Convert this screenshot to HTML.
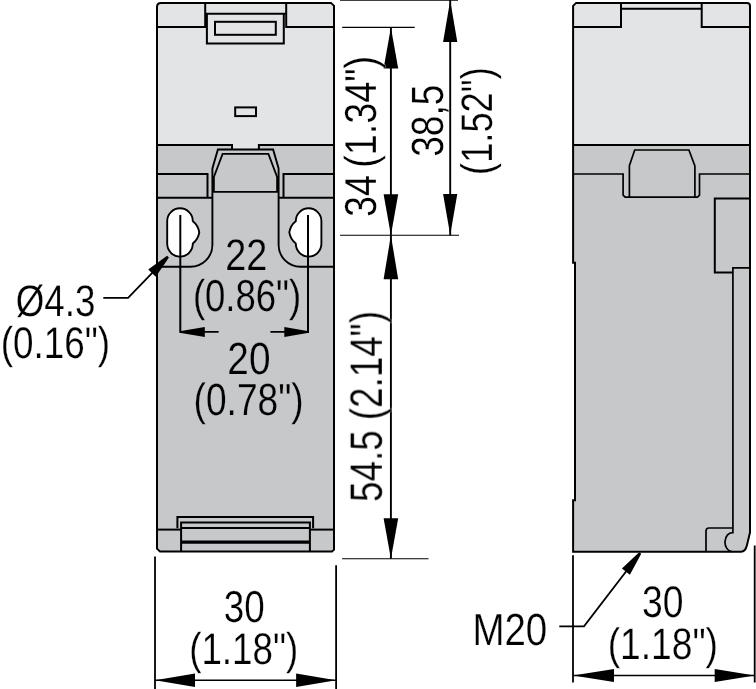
<!DOCTYPE html>
<html><head><meta charset="utf-8"><title>Dimensions</title>
<style>
html,body{margin:0;padding:0;background:#fff;}
svg{display:block;}
text{font-family:"Liberation Sans",sans-serif;fill:#000;text-rendering:geometricPrecision;}
</style></head><body>
<svg width="756" height="689" viewBox="0 0 756 689">
<rect width="756" height="689" fill="#fff"/>
<path d="M157.0,6.9 Q157.0,2.9 161.0,2.9 L331.0,2.9 L334.0,5.9 L334.0,549.6 L332.0,551.6 L160.0,551.6 L157.0,548.6 Z" fill="#c7c8ca"/>
<path d="M157.0,6.9 Q157.0,2.9 161.0,2.9 L331.0,2.9 L334.0,5.9 L334.0,144.9 L258.9,144.9 L258.9,149.5 L232,149.5 L232,144.9 L157.0,144.9 Z" fill="#e3e4e5"/>
<path d="M157.0,6.9 Q157.0,2.9 161.0,2.9 L331.0,2.9 L334.0,5.9 L334.0,549.6 L332.0,551.6 L160.0,551.6 L157.0,548.6 Z" stroke="#000" stroke-width="2.0" fill="none" stroke-linejoin="miter" />
<path d="M157.0,26.9 H205.2 V2.9" stroke="#000" stroke-width="2.0" fill="none" stroke-linejoin="miter" />
<path d="M334.0,26.9 H286.2 V2.9" stroke="#000" stroke-width="2.0" fill="none" stroke-linejoin="miter" />
<path d="M205.2,13.8 H286.2" stroke="#000" stroke-width="2.0" fill="none" stroke-linejoin="miter" />
<path d="M206.9,13.8 V43.5 H283.8 V13.8" stroke="#000" stroke-width="2.0" fill="none" stroke-linejoin="miter" />
<rect x="215" y="21.8" width="60.8" height="13" fill="none" stroke="#000" stroke-width="2.0"/>
<rect x="235.2" y="107.4" width="20.8" height="8.7" fill="none" stroke="#000" stroke-width="2.0"/>
<path d="M157.0,144.9 H232 V149.5" stroke="#000" stroke-width="2.0" fill="none" stroke-linejoin="miter" />
<path d="M334.0,144.9 H258.9 V149.5" stroke="#000" stroke-width="2.0" fill="none" stroke-linejoin="miter" />
<path d="M157.0,266.8 H190.4 A22,22 0 0 0 212.4,244.8 V168.4 L217.9,149.5 H273.1 L278.6,168.4 V244.8 A22,22 0 0 0 300.6,266.8 H334.0" stroke="#000" stroke-width="1.9" fill="none" stroke-linejoin="miter" />
<path d="M213.9,191.9 V177 L222.6,153.9 H268.4 L277.1,177 V191.9 Z" stroke="#000" stroke-width="1.8" fill="none" stroke-linejoin="miter" />
<path d="M157.0,173.9 H207.5 V197.7" stroke="#000" stroke-width="2.0" fill="none" stroke-linejoin="miter" />
<path d="M157.0,197.7 H212.4" stroke="#000" stroke-width="2.0" fill="none" stroke-linejoin="miter" />
<path d="M334.0,173.9 H283.5 V197.7" stroke="#000" stroke-width="2.0" fill="none" stroke-linejoin="miter" />
<path d="M334.0,197.7 H278.6" stroke="#000" stroke-width="2.0" fill="none" stroke-linejoin="miter" />
<path d="M167.2,221.10000000000002 A12.8,12.8 0 0 1 192.8,221.10000000000002 L193.70000000000002,221.90000000000003 Q198.0,225.3 199.3,232.4 Q198.0,239.4 193.3,243.0 L192.8,243.8 A12.8,12.8 0 0 1 167.2,243.8 Z" stroke="#000" stroke-width="1.9" fill="#fff" stroke-linejoin="miter" />
<path d="M321.40000000000003,221.10000000000002 A12.8,12.8 0 0 0 295.8,221.10000000000002 L294.90000000000003,221.90000000000003 Q290.6,225.3 289.3,232.4 Q290.6,239.4 295.3,243.0 L295.8,243.8 A12.8,12.8 0 0 0 321.40000000000003,243.8 Z" stroke="#000" stroke-width="1.9" fill="#fff" stroke-linejoin="miter" />
<line x1="180.3" y1="215" x2="180.3" y2="332.9" stroke="#000" stroke-width="2.0" />
<line x1="308" y1="215" x2="308" y2="332.9" stroke="#000" stroke-width="2.0" />
<line x1="180" y1="331.9" x2="218.6" y2="331.9" stroke="#000" stroke-width="1.9" />
<line x1="270.4" y1="331.9" x2="308" y2="331.9" stroke="#000" stroke-width="1.9" />
<polygon points="181.00,330.90 204.80,326.90 204.80,336.90 181.00,332.90" fill="#000"/>
<polygon points="307.30,332.90 284.30,336.90 284.30,326.90 307.30,330.90" fill="#000"/>
<path d="M177.4,528.3 V517.1 H313.1 V528.3" stroke="#000" stroke-width="2.0" fill="none" stroke-linejoin="miter" />
<path d="M181.1,551.6 V522.5 H309.9 V551.6" stroke="#000" stroke-width="2.0" fill="none" stroke-linejoin="miter" />
<path d="M157.0,529.6 H181.1" stroke="#000" stroke-width="2.0" fill="none" stroke-linejoin="miter" />
<path d="M181.1,528 H309.9" stroke="#000" stroke-width="2.0" fill="none" stroke-linejoin="miter" />
<path d="M309.9,529.6 H334.0" stroke="#000" stroke-width="2.0" fill="none" stroke-linejoin="miter" />
<line x1="181.1" y1="542.1" x2="309.9" y2="542.1" stroke="#000" stroke-width="3.2" />
<path d="M103.3,297.8 H128.1 L166,258.7" stroke="#000" stroke-width="1.8" fill="none" stroke-linejoin="miter" />
<polygon points="168.93,257.50 155.77,276.77 148.23,269.47 167.07,255.70" fill="#000"/>
<line x1="155" y1="556.6" x2="155" y2="689" stroke="#000" stroke-width="1.8" />
<line x1="336.1" y1="565.3" x2="336.1" y2="689" stroke="#000" stroke-width="1.8" />
<line x1="155" y1="680.2" x2="336" y2="680.2" stroke="#000" stroke-width="1.6" />
<polygon points="155.00,680.20 195.00,673.45 195.00,686.95" fill="#000"/>
<polygon points="336.10,680.20 296.10,686.95 296.10,673.45" fill="#000"/>
<line x1="340" y1="0.3" x2="458" y2="0.3" stroke="#000" stroke-width="1.1" />
<line x1="342.2" y1="27.4" x2="414.7" y2="27.4" stroke="#000" stroke-width="1.1" />
<line x1="340.1" y1="235.3" x2="459" y2="235.3" stroke="#000" stroke-width="1.1" />
<line x1="342.1" y1="558.8" x2="428.5" y2="558.8" stroke="#000" stroke-width="1.1" />
<line x1="390.9" y1="27.4" x2="390.9" y2="558.8" stroke="#000" stroke-width="1.9" />
<line x1="450.2" y1="0" x2="450.2" y2="235.3" stroke="#000" stroke-width="1.9" />
<polygon points="390.90,27.40 398.20,68.40 383.60,68.40" fill="#000"/>
<polygon points="390.90,235.30 383.60,194.30 398.20,194.30" fill="#000"/>
<polygon points="390.90,235.30 398.20,279.30 383.60,279.30" fill="#000"/>
<polygon points="390.90,558.80 383.60,518.30 398.20,518.30" fill="#000"/>
<polygon points="450.20,0.30 457.30,41.90 443.10,41.90" fill="#000"/>
<polygon points="450.20,235.00 443.10,194.00 457.30,194.00" fill="#000"/>
<path d="M573.1,5.9 L576.1,2.9 H747.0 Q750.0,2.9 750.0,5.9 V532.4 L747.0,545 Q745.5,551.7 741.0,551.7 H573.1 V500.3 H575 V262.8 H573.1 Z" fill="#c7c8ca"/>
<path d="M573.1,5.9 L576.1,2.9 H747.0 Q750.0,2.9 750.0,5.9 V145 H573.1 Z" fill="#e3e4e5"/>
<path d="M573.1,5.9 L576.1,2.9 H747.0 Q750.0,2.9 750.0,5.9 V532.4 L747.0,545 Q745.5,551.7 741.0,551.7 H573.1 V500.3 H575 V262.8 H573.1 Z" stroke="#000" stroke-width="2.0" fill="none" stroke-linejoin="miter" />
<path d="M573.1,26.9 H621 V2.9" stroke="#000" stroke-width="2.0" fill="none" stroke-linejoin="miter" />
<path d="M750.0,26.9 H701.7 V2.9" stroke="#000" stroke-width="2.0" fill="none" stroke-linejoin="miter" />
<path d="M621,8.7 H701.7" stroke="#000" stroke-width="2.0" fill="none" stroke-linejoin="miter" />
<path d="M573.1,145 H750.0" stroke="#000" stroke-width="2.0" fill="none" stroke-linejoin="miter" />
<path d="M629.4,197.2 V165.7 L634.7,150 H688.9 L694.9,166 V197.2" stroke="#000" stroke-width="1.7" fill="none" stroke-linejoin="miter" />
<path d="M573.1,174 H623.1 V195.2 L625.1,197.2 H697.5 L699.5,195.2 V174 H750.0" stroke="#000" stroke-width="1.7" fill="none" stroke-linejoin="miter" />
<path d="M750.0,198.4 H714.8 V272.6 H732.9" stroke="#000" stroke-width="2.0" fill="none" stroke-linejoin="miter" />
<path d="M750.0,267.9 H732.9 V532.6 A7.3,9.5 0 0 0 731.8,551.7" stroke="#000" stroke-width="1.7" fill="none" stroke-linejoin="miter" />
<path d="M706,551.7 V531 Q706,528 709,528 H732.9" stroke="#000" stroke-width="1.7" fill="none" stroke-linejoin="miter" />
<line x1="573" y1="555.2" x2="573" y2="682.5" stroke="#000" stroke-width="1.8" />
<line x1="754.7" y1="545.5" x2="754.7" y2="682.5" stroke="#000" stroke-width="1.8" />
<line x1="573" y1="675.5" x2="754.7" y2="675.5" stroke="#000" stroke-width="1.6" />
<polygon points="573.00,675.50 614.00,669.00 614.00,682.00" fill="#000"/>
<polygon points="754.70,675.50 714.70,682.00 714.70,669.00" fill="#000"/>
<path d="M559.3,626.4 H584 L637,557.2" stroke="#000" stroke-width="1.8" fill="none" stroke-linejoin="miter" />
<polygon points="641.23,553.79 629.87,574.69 621.94,568.61 639.17,552.21" fill="#000"/>
<g style="opacity:0.999">
<text transform="translate(225.30,269.73) scale(0.8557,1)" font-size="44.21" stroke="#c7c8ca" stroke-width="0.25">22</text>
<text transform="translate(192.91,311.02) scale(0.8181,1)" font-size="44.64" stroke="#c7c8ca" stroke-width="0.25">(0.86&quot;)</text>
<text transform="translate(227.35,374.12) scale(0.8617,1)" font-size="45.07" stroke="#c7c8ca" stroke-width="0.25">20</text>
<text transform="translate(193.57,415.02) scale(0.8236,1)" font-size="45.07" stroke="#c7c8ca" stroke-width="0.25">(0.78&quot;)</text>
<text transform="translate(223.82,622.02) scale(0.8244,1)" font-size="44.64" stroke="#fff" stroke-width="0.25">30</text>
<text transform="translate(189.19,664.02) scale(0.8281,1)" font-size="44.36" stroke="#fff" stroke-width="0.25">(1.18&quot;)</text>
<text transform="translate(642.10,617.02) scale(0.8407,1)" font-size="44.36" stroke="#fff" stroke-width="0.25">30</text>
<text transform="translate(607.66,659.33) scale(0.8439,1)" font-size="44.07" stroke="#fff" stroke-width="0.25">(1.18&quot;)</text>
<text transform="translate(472.42,644.92) scale(0.8536,1)" font-size="45.07" stroke="#fff" stroke-width="0.25">M20</text>
<text transform="translate(15.73,316.12) scale(0.8308,1)" font-size="44.21" stroke="#fff" stroke-width="0.25">Ø4.3</text>
<text transform="translate(0.68,357.82) scale(0.8313,1)" font-size="44.36" stroke="#fff" stroke-width="0.25">(0.16&quot;)</text>
<text transform="translate(376.43,216.92) rotate(-90) scale(0.8428,1)" font-size="44.79" word-spacing="-4.03" stroke="#fff" stroke-width="0.25">34 (1.34&quot;)</text>
<text transform="translate(442.62,156.79) rotate(-90) scale(0.8219,1)" font-size="45.21" word-spacing="-4.07" stroke="#fff" stroke-width="0.25">38,5</text>
<text transform="translate(492.02,174.88) rotate(-90) scale(0.8205,1)" font-size="44.21" word-spacing="-3.98" stroke="#fff" stroke-width="0.25">(1.52&quot;)</text>
<text transform="translate(381.82,501.87) rotate(-90) scale(0.8104,1)" font-size="45.36" word-spacing="0.00" stroke="#fff" stroke-width="0.25">54.5 (2.14&quot;)</text>
</g>
</svg>
</body></html>
